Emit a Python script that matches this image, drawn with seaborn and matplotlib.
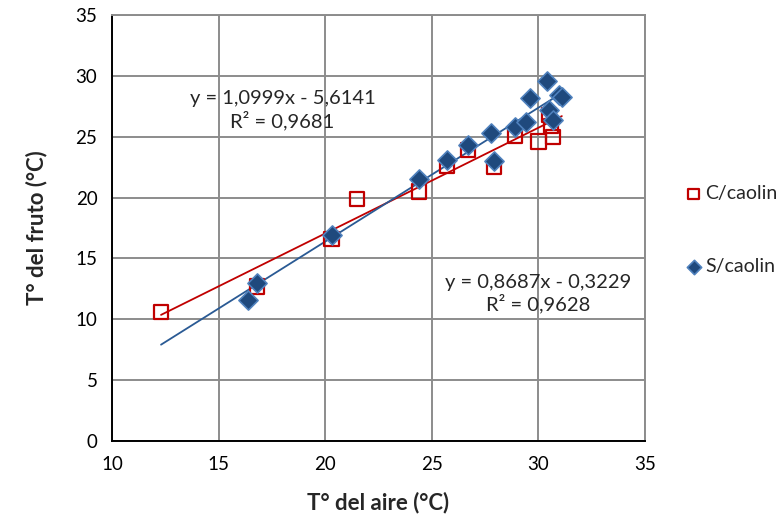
import numpy as np
import pandas as pd
import matplotlib
matplotlib.use("Agg")
import matplotlib.pyplot as plt
import seaborn as sns

# Data
c_x = [12.3, 16.8, 20.3, 21.5, 24.4, 25.7, 26.7, 27.9, 28.9, 30.0, 30.5, 30.6, 30.7]
c_y = [10.6, 12.7, 16.6, 19.9, 20.5, 22.6, 23.9, 22.5, 25.1, 24.6, 26.8, 25.9, 25.0]
s_x = [16.4, 16.8, 20.3, 24.4, 25.7, 26.7, 27.8, 27.9, 28.9, 29.4, 29.6, 30.4, 30.5, 30.7, 30.95, 31.1]
s_y = [11.6, 13.0, 16.9, 21.5, 23.1, 24.3, 25.3, 23.0, 25.8, 26.2, 28.2, 29.6, 27.2, 26.4, 28.4, 28.3]
series_names = ["C/caolin", "S/caolin"]
# trendlines (slope, intercept, r2) as reported
c_fit = (0.8687, -0.3229, 0.9628)
s_fit = (1.0999, -5.6141, 0.9681)
x_ticks = [10, 15, 20, 25, 30, 35]
y_ticks = [0, 5, 10, 15, 20, 25, 30, 35]

sns.set_style("white")
plt.rcParams['font.family'] = ['Lato', 'DejaVu Sans']

fig = plt.figure(figsize=(7.78, 5.25), dpi=100)
ax = fig.add_axes([112/778, 1 - 441/525, (645-112)/778, (441-15)/525])

df = pd.concat([
    pd.DataFrame({"x": c_x, "y": c_y, "serie": series_names[0]}),
    pd.DataFrame({"x": s_x, "y": s_y, "serie": series_names[1]}),
], ignore_index=True)

red = "#C00000"
blue_face = "#1F497D"
blue_edge = "#4F81BD"

# Trendlines over the full x range
xmin = min(c_x + s_x)
xmax = max(c_x + s_x)
xl = np.array([xmin, xmax])
ax.plot(xl, c_fit[0] * xl + c_fit[1], color=red, lw=1.3, zorder=2)
ax.plot(xl, s_fit[0] * xl + s_fit[1], color="#2A5A94", lw=1.3, zorder=2)

sns.scatterplot(data=df[df.serie == series_names[0]], x="x", y="y", ax=ax,
                marker="s", s=105, facecolor="none", edgecolor=red, linewidth=1.6,
                label=series_names[0], zorder=3)
sns.scatterplot(data=df[df.serie == series_names[1]], x="x", y="y", ax=ax,
                marker="D", s=95, color=blue_face, edgecolor=blue_edge, linewidth=1.2,
                label=series_names[1], zorder=4)

ax.set_xlim(10, 35)
ax.set_ylim(0, 35)
ax.set_xticks(x_ticks)
ax.set_yticks(y_ticks)
ax.tick_params(axis='both', labelsize=13.5, direction='inout', length=7, width=1.2,
               colors='black', pad=7)
ax.grid(True, color="#8C8C8C", lw=1.4)
ax.set_axisbelow(True)
for side in ["left", "bottom"]:
    ax.spines[side].set_color("black")
    ax.spines[side].set_linewidth(1.4)
for side in ["top", "right"]:
    ax.spines[side].set_color("#8C8C8C")
    ax.spines[side].set_linewidth(1.4)

ax.set_xlabel("T° del aire (°C)", fontsize=16, fontweight="bold", labelpad=14)
ax.set_ylabel("T° del fruto (°C)", fontsize=16, fontweight="bold", labelpad=20)

def fmt(v):
    return f"{abs(v):.4f}".replace(".", ",")

ax.text(18.0, 27.2, f"y = {fmt(s_fit[0])}x - {fmt(s_fit[1])}\nR² = {fmt(s_fit[2])}",
        ha="center", va="center", fontsize=14.5, linespacing=1.2)
ax.text(30.0, 12.1, f"y = {fmt(c_fit[0])}x - {fmt(c_fit[1])}\nR² = {fmt(c_fit[2])}",
        ha="center", va="center", fontsize=14.5, linespacing=1.2)

ax.legend(loc="upper left", bbox_to_anchor=(684/778, 1 - 185/525),
          bbox_transform=fig.transFigure, frameon=False, fontsize=14,
          labelspacing=2.9, handletextpad=0.1, borderpad=0, borderaxespad=0,
          handlelength=1.0, markerscale=0.75)

fig.savefig("out.png", dpi=100)
